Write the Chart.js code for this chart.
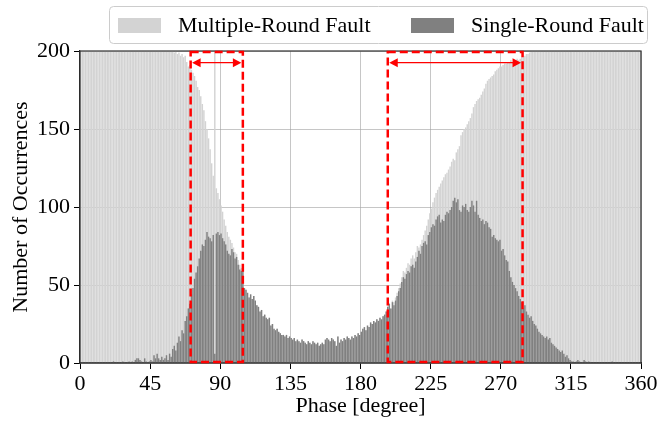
<!DOCTYPE html>
<html>
<head>
<meta charset="utf-8">
<script src="https://cdn.jsdelivr.net/npm/chart.js@4.4.0/dist/chart.umd.min.js"></script>
<style>
    html, body { margin: 0; padding: 0; background: #ffffff; }
    #wrap { width: 672px; height: 422px; }
</style>
</head>
<body>
<div id="wrap"><canvas id="chart" width="672" height="422"></canvas></div>
<script>
// Fonts / defaults
Chart.defaults.font.family = "'Liberation Serif', 'Times New Roman', serif";
Chart.defaults.color = '#000000';

// Data: counts per 1-degree phase bin (bin i covers [i, i+1))
const seriesNames = ['Multiple-Round Fault', 'Single-Round Fault'];

const multiRound = [
    262, 255, 268, 259, 271, 264, 258, 266, 270, 261, 257, 263, 269, 260, 254, 265, 272, 258, 261, 267,
    259, 266, 262, 270, 257, 263, 268, 255, 261, 264, 259, 267, 262, 256, 265, 260, 258, 263, 254, 259,
    252, 257, 248, 255, 246, 250, 244, 249, 241, 243, 238, 236, 232, 230, 226, 222, 217, 213, 208, 204,
    199, 200, 198, 199, 197, 198, 196, 197, 193, 190, 191, 188, 186, 184, 181, 177, 175, 171, 166, 162,
    155, 150, 144, 137, 128, 120, 199, 112, 109, 105, 101, 97, 92, 88, 84, 81, 79, 77, 74, 71,
    70, 66, 63, 61, 60, 48, 47, 45, 42, 44, 41, 43, 40, 37, 36, 33, 34, 30, 31, 29,
    28, 29, 24, 25, 22, 21, 22, 20, 19, 18, 18, 17, 18, 16, 17, 16, 15, 16, 14, 15,
    14, 13, 15, 14, 13, 12, 14, 13, 12, 14, 13, 12, 13, 11, 12, 13, 12, 15, 16, 15,
    14, 16, 15, 14, 11, 17, 13, 15, 14, 16, 15, 17, 16, 15, 17, 16, 18, 17, 19, 18,
    20, 22, 23, 21, 24, 23, 26, 25, 27, 26, 28, 27, 29, 28, 30, 31, 33, 36, 38, 35,
    40, 39, 42, 45, 48, 51, 55, 59, 58, 61, 64, 63, 67, 69, 67, 71, 75, 74, 76, 79,
    82, 85, 88, 92, 96, 99, 103, 106, 109, 111, 113, 115, 117, 119, 121, 122, 124, 126, 129, 131,
    130, 135, 137, 139, 146, 148, 150, 151, 153, 155, 157, 160, 164, 166, 168, 169, 170, 172, 174, 176,
    179, 181, 182, 183, 184, 185, 187, 188, 189, 190, 190, 191, 192, 192, 193, 193, 194, 193, 194, 194,
    195, 194, 195, 196, 196, 197, 198, 198, 199, 200, 203, 207, 210, 214, 219, 223, 228, 231, 236, 240,
    243, 247, 250, 252, 255, 258, 257, 261, 263, 260, 264, 266, 262, 268, 265, 263, 269, 266, 264, 270,
    267, 263, 268, 265, 271, 266, 262, 269, 264, 267, 270, 263, 268, 265, 261, 266, 269, 264, 267, 262,
    268, 265, 263, 270, 266, 261, 267, 264, 269, 263, 266, 271, 265, 262, 268, 264, 267, 263, 270, 266
];

const singleRound = [
    0, 0, 0, 0, 0, 0, 0, 0, 0, 0, 0, 0, 0, 0, 0, 0, 0, 0, 0, 0,
    0, 1, 0, 0, 0, 0, 0, 1, 0, 0, 0, 1, 0, 1, 0, 2, 3, 3, 2, 1,
    0, 3, 1, 0, 1, 2, 1, 5, 3, 6, 3, 2, 4, 2, 3, 5, 2, 6, 4, 9,
    11, 8, 13, 17, 14, 21, 19, 27, 30, 35, 38, 44, 48, 54, 58, 62, 67, 72, 76, 75,
    79, 84, 81, 80, 78, 82, 6, 83, 84, 82, 83, 80, 78, 76, 72, 70, 69, 73, 71, 67,
    68, 63, 60, 59, 60, 48, 47, 45, 42, 44, 41, 43, 40, 37, 36, 33, 34, 30, 31, 29,
    28, 29, 24, 25, 22, 21, 22, 20, 19, 18, 18, 17, 18, 16, 17, 16, 15, 16, 14, 15,
    14, 13, 15, 14, 13, 12, 14, 13, 12, 14, 13, 12, 13, 11, 12, 13, 12, 15, 16, 15,
    14, 16, 15, 14, 11, 17, 13, 15, 14, 16, 15, 17, 16, 15, 17, 16, 18, 17, 19, 18,
    20, 22, 23, 21, 24, 23, 26, 25, 27, 26, 28, 27, 29, 28, 30, 31, 33, 36, 38, 35,
    39, 37, 40, 43, 46, 48, 52, 55, 54, 57, 59, 58, 62, 63, 61, 65, 68, 72, 70, 75,
    77, 78, 76, 82, 84, 87, 89, 88, 92, 94, 95, 90, 92, 91, 95, 97, 96, 98, 100, 104,
    106, 103, 105, 98, 97, 101, 100, 102, 98, 97, 100, 104, 101, 97, 104, 95, 93, 91, 92, 89,
    91, 90, 87, 86, 81, 82, 80, 79, 78, 79, 72, 73, 69, 66, 65, 59, 55, 52, 50, 48,
    46, 43, 41, 39, 35, 37, 33, 31, 29, 30, 27, 25, 24, 22, 20, 19, 18, 17, 16, 17,
    15, 16, 13, 12, 11, 10, 9, 8, 7, 8, 6, 4, 5, 3, 2, 1, 1, 0, 1, 2,
    1, 0, 0, 2, 1, 0, 1, 0, 0, 0, 0, 0, 0, 0, 0, 0, 0, 0, 0, 0,
    0, 1, 0, 0, 0, 0, 0, 0, 0, 0, 0, 0, 0, 0, 0, 0, 0, 0, 0, 0
];

const xTicks = [0, 45, 90, 135, 180, 225, 270, 315, 360];
const yTicks = [0, 50, 100, 150, 200];

// highlighted phase windows (red dashed boxes)
const windowStart = [71, 197.5];
const windowEnd = [104.5, 284];

const seriesColors = ['#d3d3d3', '#808080'];

function toPoints(values) {
    return values.map((v, i) => ({ x: i + 0.5, y: v }));
}

// Plugins

const framePlugin = {
    id: 'frame',
    afterDraw(chart) {
        const { ctx, chartArea: a } = chart;
        ctx.save();
        ctx.strokeStyle = '#333333';
        ctx.lineWidth = 1.2;
        ctx.strokeRect(a.left, a.top, a.right - a.left, a.bottom - a.top);
        ctx.restore();
    }
};

const windowPlugin = {
    id: 'windows',
    afterDraw(chart) {
        const { ctx, scales: { x, y } } = chart;
        const top = y.getPixelForValue(yTicks[yTicks.length - 1]) + 1;
        const bottom = y.getPixelForValue(0) - 1;
        const arrowY = y.getPixelForValue(192.5);
        ctx.save();
        windowStart.forEach((start, k) => {
            const x0 = x.getPixelForValue(start);
            const x1 = x.getPixelForValue(windowEnd[k]);

            // dashed box
            ctx.strokeStyle = '#ff0000';
            ctx.lineWidth = 2.5;
            ctx.setLineDash([8, 4]);
            ctx.strokeRect(x0, top, x1 - x0, bottom - top);

            // double arrow
            ctx.setLineDash([]);
            ctx.lineWidth = 1.2;
            ctx.beginPath();
            ctx.moveTo(x0 + 8, arrowY);
            ctx.lineTo(x1 - 8, arrowY);
            ctx.stroke();
            ctx.fillStyle = '#ff0000';
            ctx.beginPath();
            ctx.moveTo(x0 + 1.5, arrowY);
            ctx.lineTo(x0 + 10, arrowY - 4.5);
            ctx.lineTo(x0 + 10, arrowY + 4.5);
            ctx.closePath();
            ctx.fill();
            ctx.beginPath();
            ctx.moveTo(x1 - 1.5, arrowY);
            ctx.lineTo(x1 - 10, arrowY - 4.5);
            ctx.lineTo(x1 - 10, arrowY + 4.5);
            ctx.closePath();
            ctx.fill();
        });
        ctx.restore();
    }
};

const legendPlugin = {
    id: 'boxLegend',
    afterDraw(chart) {
        const ctx = chart.ctx;
        ctx.save();
        ctx.setLineDash([]);
        ctx.fillStyle = 'rgba(255,255,255,0.9)';
        ctx.strokeStyle = '#cccccc';
        ctx.lineWidth = 1;
        ctx.beginPath();
        ctx.roundRect(109.5, 6.5, 538, 37, 4);
        ctx.fill();
        ctx.stroke();

        const swatchX = [118, 411];
        const textX = [178, 471];
        ctx.font = "22px 'Liberation Serif', 'Times New Roman', serif";
        ctx.textBaseline = 'middle';
        seriesNames.forEach((name, i) => {
            ctx.fillStyle = seriesColors[i];
            ctx.fillRect(swatchX[i], 18, 43, 15);
            ctx.fillStyle = '#000000';
            ctx.fillText(name, textX[i], 26);
        });
        ctx.restore();
    }
};

// Chart

const ctx = document.getElementById('chart').getContext('2d');
new Chart(ctx, {
    type: 'bar',
    data: {
        datasets: [
            {
                label: seriesNames[0],
                data: toPoints(multiRound),
                backgroundColor: seriesColors[0],
                grouped: false,
                order: 1,
                barPercentage: 0.92,
                categoryPercentage: 1
            },
            {
                label: seriesNames[1],
                data: toPoints(singleRound),
                backgroundColor: seriesColors[1],
                grouped: false,
                order: 0,
                barPercentage: 0.92,
                categoryPercentage: 1
            }
        ]
    },
    options: {
        responsive: false,
        animation: false,
        layout: { padding: { left: 0, right: 31, top: 51, bottom: 0 } },
        plugins: {
            legend: { display: false },
            tooltip: { enabled: false }
        },
        scales: {
            x: {
                type: 'linear',
                min: 0,
                max: 360,
                offset: false,
                z: 1,
                afterFit: (scale) => { scale.height = 59; },
                afterBuildTicks: (scale) => { scale.ticks = xTicks.map(v => ({ value: v })); },
                grid: {
                    offset: false,
                    color: 'rgba(160,160,160,0.6)',
                    tickColor: '#000000',
                    tickLength: 6
                },
                border: { color: '#222222', width: 1.2 },
                ticks: {
                    font: { size: 22 },
                    padding: 2,
                    maxRotation: 0
                },
                title: {
                    display: true,
                    text: 'Phase [degree]',
                    font: { size: 22 },
                    padding: { top: 0, bottom: 3 }
                }
            },
            y: {
                min: 0,
                max: 200,
                z: 1,
                afterFit: (scale) => { scale.width = 80; },
                afterBuildTicks: (scale) => { scale.ticks = yTicks.map(v => ({ value: v })); },
                grid: {
                    color: 'rgba(160,160,160,0.6)',
                    tickColor: '#000000',
                    tickLength: 6
                },
                border: { color: '#222222', width: 1.2 },
                ticks: {
                    font: { size: 22 },
                    padding: 4
                },
                title: {
                    display: true,
                    text: 'Number of Occurrences',
                    font: { size: 22 },
                    padding: { top: 8, bottom: 0 }
                }
            }
        }
    },
    plugins: [framePlugin, windowPlugin, legendPlugin]
});
</script>
</body>
</html>
